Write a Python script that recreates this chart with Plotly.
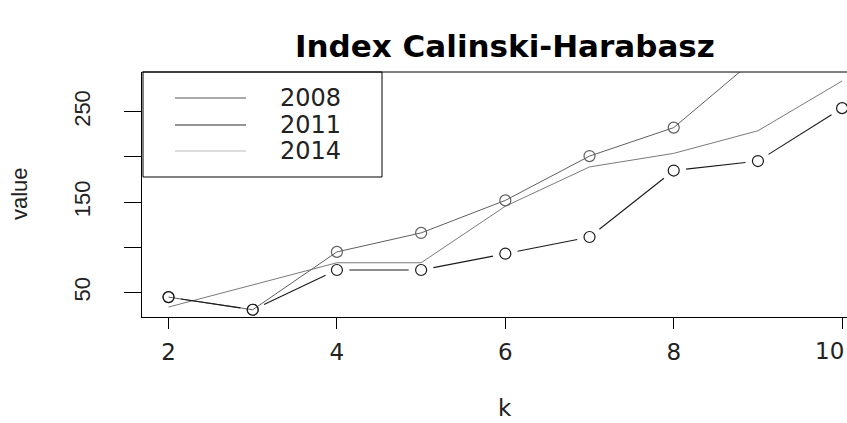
import math
import plotly.graph_objects as go

k = [2, 3, 4, 5, 6, 7, 8, 9, 10]
series_names = ["2008", "2011", "2014"]
v2008 = [45, 31, 95, 116, 152, 201, 232.5, 311]
v2011 = [45, 31, 75, 75, 93, 111.5, 185, 195.5, 254]
v2014 = [34, 58.5, 83, 83, 145.5, 189, 204, 229, 284]
x_ticks = [2, 4, 6, 8, 10]
y_ticks = [50, 100, 150, 200, 250]
y_ticklabels = ["50", "", "150", "", "250"]

W, H = 847, 423
PL, PT, PB = 142, 72, 317          # plot box edges in page pixels
ML, MR, MT, MB = PL, 0, PT, H - PB
XR = [1.685, 10.058]
YR = [23, 294]
pw = W - ML - MR
ph = H - MT - MB
sx = pw / (XR[1] - XR[0])
sy = ph / (YR[1] - YR[0])


def px(xp):
    return (xp - PL) / pw


def py(yp):
    return (PB - yp) / ph


FONT = "Liberation Sans, Arial, sans-serif"
WIDE = "DejaVu Sans, sans-serif"

fig = go.Figure()

# 2014: plain line
fig.add_trace(go.Scatter(x=k, y=v2014, mode="lines", name=series_names[2],
                         line=dict(color="#7a7a7a", width=1), showlegend=False))

# 2008: line through circles (type "o")
fig.add_trace(go.Scatter(x=k[:len(v2008)], y=v2008, mode="lines+markers", name=series_names[0],
                         line=dict(color="#5f5f5f", width=1),
                         marker=dict(symbol="circle-open", size=11, color="#5f5f5f", line=dict(width=1.2)),
                         showlegend=False))

# 2011: type "b" - segments with gaps around the points
gap = 12.5
bx, by = [], []
for i in range(len(v2011) - 1):
    x0, y0, x1, y1 = k[i], v2011[i], k[i + 1], v2011[i + 1]
    dx = (x1 - x0) * sx
    dy = (y1 - y0) * sy
    L = math.hypot(dx, dy)
    if L <= 2 * gap:
        continue
    f = gap / L
    bx += [x0 + (x1 - x0) * f, x1 - (x1 - x0) * f, None]
    by += [y0 + (y1 - y0) * f, y1 - (y1 - y0) * f, None]
fig.add_trace(go.Scatter(x=bx, y=by, mode="lines", line=dict(color="#1a1a1a", width=1.1),
                         showlegend=False, hoverinfo="skip"))
fig.add_trace(go.Scatter(x=k, y=v2011, mode="markers", name=series_names[1],
                         marker=dict(symbol="circle-open", size=11, color="#1a1a1a", line=dict(width=1.2)),
                         showlegend=False))

# custom legend (R style)
leg_colors = ["#555555", "#2a2a2a", "#bbbbbb"]
leg_y = [98, 125, 151]
shapes = [dict(type="rect", xref="paper", yref="paper", x0=px(143), x1=px(382), y0=py(177), y1=py(PT),
               line=dict(color="black", width=1), fillcolor="rgba(0,0,0,0)")]
annotations = []
for name, c, yy in zip(series_names, leg_colors, leg_y):
    shapes.append(dict(type="line", xref="paper", yref="paper", x0=px(175), x1=px(246), y0=py(yy), y1=py(yy),
                       line=dict(color=c, width=1)))
    annotations.append(dict(text=name, xref="paper", yref="paper", x=px(278), y=py(yy), xanchor="left",
                            yanchor="middle", showarrow=False, font=dict(size=24, color="#222", family=WIDE)))
# top border of plot box
shapes.append(dict(type="line", xref="paper", yref="paper", x0=0, x1=1, y0=1, y1=1,
                   line=dict(color="black", width=1)))

annotations.append(dict(text="<b>Index Calinski-Harabasz</b>", xref="paper", yref="paper",
                        x=px(505), y=py(46), xanchor="center", yanchor="middle",
                        showarrow=False, font=dict(size=31, color="black", family=WIDE)))
annotations.append(dict(text="k", xref="paper", yref="paper", x=px(505), y=py(408),
                        xanchor="center", yanchor="middle", showarrow=False,
                        font=dict(size=23, color="#222", family=WIDE)))
annotations.append(dict(text="value", xref="paper", yref="paper", x=px(19), y=py(194),
                        xanchor="center", yanchor="middle", textangle=-90, showarrow=False,
                        font=dict(size=22, color="#222", family=FONT)))
# last x tick label, kept inside the page edge as in the reference
annotations.append(dict(text=str(x_ticks[-1]), xref="paper", yref="paper", x=px(846), y=py(351),
                        xanchor="right", yanchor="middle", showarrow=False,
                        font=dict(size=23, color="#222", family=WIDE)))

fig.update_layout(
    width=W, height=H, margin=dict(l=ML, r=MR, t=MT, b=MB, autoexpand=False),
    paper_bgcolor="white", plot_bgcolor="white",
    shapes=shapes, annotations=annotations, showlegend=False,
    font=dict(family=FONT, color="#222"),
)
fig.update_xaxes(range=XR, tickvals=x_ticks, ticktext=[str(t) for t in x_ticks[:-1]] + [""],
                 showgrid=False, zeroline=False,
                 showline=True, linecolor="black", linewidth=1, ticks="outside", ticklen=11,
                 tickcolor="black", tickfont=dict(size=23, family=WIDE, color="#222"),
                 ticklabelstandoff=3, ticklabeloverflow="allow")
fig.update_yaxes(range=YR, tickvals=y_ticks, ticktext=y_ticklabels,
                 showgrid=False, zeroline=False, showline=True, linecolor="black", linewidth=1,
                 ticks="outside", ticklen=17, tickcolor="black", tickangle=-90,
                 tickfont=dict(size=22, family=FONT, color="#222"), ticklabelstandoff=25)

fig.write_html("out.html", config={"displayModeBar": False},
               post_script="document.body.style.margin='0';document.body.style.overflow='hidden';")
